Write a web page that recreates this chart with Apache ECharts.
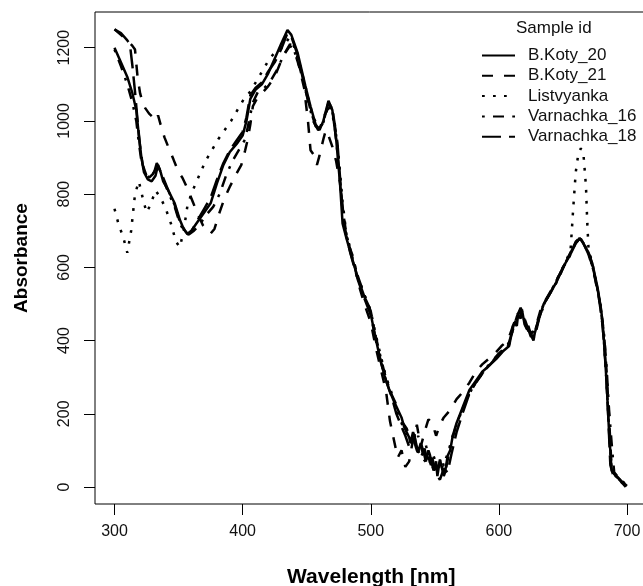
<!DOCTYPE html>
<html>
<head>
<meta charset="utf-8">
<title>Absorbance spectra</title>
<script src="https://cdn.jsdelivr.net/npm/echarts@6/dist/echarts.min.js"></script>
<style>
  html, body { margin: 0; padding: 0; background: #fff; }
  #chart { width: 643px; height: 586px; }
</style>
</head>
<body>
<div id="chart"></div>
<script>
// tick labels
const xTicks = [300, 400, 500, 600, 700];
const yTicks = [0, 200, 400, 600, 800, 1000, 1200];

// sample names (legend order)
const sampleNames = ['B.Koty_20', 'B.Koty_21', 'Listvyanka', 'Varnachka_16', 'Varnachka_18'];

// [wavelength nm, absorbance]
const bKoty20 = [[300,1200],[305,1160],[310,1120],[314,1075],[317,1030],[319,960],[321,900],[323,860],[326,840],[329,835],[332,850],[334,880],[336,860],[338,835],[342,810],[347,775],[351,730],[354,705],[357,692],[360,700],[365,725],[370,750],[375,775],[380,830],[385,880],[390,915],[396,940],[400,960],[403,1000],[406,1060],[410,1085],[415,1100],[420,1130],[425,1170],[430,1210],[435,1248],[438,1235],[443,1185],[449,1095],[453,1040],[457,990],[460,975],[463,1000],[467,1055],[470,1030],[473,950],[476,830],[478,720],[481,680],[485,630],[490,570],[495,520],[499,490],[503,420],[507,355],[511,300],[515,260],[518,235],[520,220],[522,205],[524,190],[526,165],[528,150],[530,135],[531,120],[533,150],[534,140],[536,110],[537,95],[539,120],[540,110],[542,85],[543,70],[545,100],[546,90],[548,60],[549,45],[551,70],[552,30],[554,75],[555,60],[557,30],[558,40],[560,85],[562,100],[564,140],[567,175],[572,220],[577,265],[582,290],[587,315],[592,330],[598,350],[603,370],[608,385],[610,420],[612,450],[614,440],[615,470],[617,460],[618,485],[620,445],[622,430],[623,440],[625,415],[627,400],[628,420],[630,445],[635,500],[640,530],[645,560],[650,600],[655,630],[660,665],[663,680],[666,665],[670,640],[673,610],[677,545],[680,480],[682,400],[684,290],[686,150],[688,45],[692,30],[696,15],[700,3]];

const bKoty21 = [[300,1250],[305,1235],[310,1220],[314,1205],[316,1195],[318,1120],[320,1075],[322,1050],[324,1035],[327,1020],[330,1010],[332,1000],[334,1015],[336,990],[339,955],[343,920],[346,895],[350,860],[353,845],[357,815],[361,780],[365,745],[369,715],[373,700],[375,692],[378,705],[382,750],[386,790],[390,820],[395,855],[399,880],[402,920],[404,950],[406,990],[408,1040],[411,1060],[415,1075],[420,1095],[425,1120],[429,1155],[433,1185],[437,1205],[440,1195],[444,1150],[448,1090],[451,1000],[453,920],[456,905],[458,880],[460,905],[463,950],[465,975],[467,960],[470,930],[473,890],[476,830],[479,720],[482,670],[486,630],[490,560],[495,500],[500,450],[504,380],[508,320],[512,260],[515,180],[518,130],[521,80],[524,100],[527,55],[530,70],[533,130],[536,170],[539,110],[542,150],[545,185],[548,175],[551,140],[554,170],[557,190],[562,210],[567,240],[572,260],[577,285],[582,315],[587,335],[592,350],[597,365],[602,385],[607,400],[611,440],[614,470],[617,480],[620,450],[623,430],[626,420],[629,440],[633,490],[638,520],[643,550],[648,585],[653,620],[658,655],[662,675],[664,678],[667,660],[671,630],[675,570],[679,500],[682,420],[684,320],[686,190],[688,50],[691,30],[696,15],[700,2]];

const listvyanka = [[300,760],[303,720],[307,680],[310,640],[313,700],[316,800],[319,835],[322,790],[325,750],[328,770],[332,810],[336,790],[340,760],[344,720],[348,670],[351,655],[354,700],[357,770],[361,810],[366,850],[371,890],[376,920],[381,950],[386,975],[391,1000],[396,1030],[401,1060],[406,1080],[411,1110],[416,1140],[421,1170],[426,1190],[431,1200],[436,1225],[440,1205],[445,1150],[450,1080],[455,1010],[459,985],[462,990],[466,1040],[469,1045],[472,990],[475,900],[478,780],[481,690],[485,640],[490,575],[495,525],[500,480],[504,415],[508,355],[512,300],[516,260],[520,215],[524,175],[528,140],[532,120],[536,105],[540,80],[544,65],[548,55],[552,45],[556,55],[560,90],[564,140],[568,180],[573,225],[578,265],[583,290],[588,315],[593,335],[598,355],[603,372],[608,390],[612,445],[615,468],[618,480],[621,440],[624,420],[627,405],[630,450],[635,500],[640,530],[645,565],[650,600],[654,630],[656,650],[658,760],[660,860],[662,910],[664,925],[666,910],[668,820],[669,720],[670,650],[673,610],[677,540],[680,475],[682,400],[684,290],[686,160],[688,45],[692,28],[696,12],[700,2]];

const varnachka16 = [[300,1195],[305,1150],[310,1100],[314,1050],[317,1000],[319,940],[321,890],[324,855],[327,845],[330,855],[333,875],[335,870],[338,840],[342,805],[347,765],[351,720],[355,695],[358,690],[362,700],[367,720],[372,745],[377,765],[382,800],[387,850],[392,890],[397,920],[402,950],[405,1000],[408,1050],[412,1080],[417,1090],[422,1110],[427,1140],[432,1180],[437,1210],[440,1195],[445,1140],[450,1070],[455,1000],[459,975],[462,985],[466,1030],[469,1040],[472,980],[475,880],[478,760],[481,690],[485,635],[490,575],[495,525],[500,480],[504,410],[508,350],[512,295],[516,255],[520,225],[522,200],[524,180],[526,170],[528,160],[530,140],[532,130],[534,150],[535,115],[537,140],[538,135],[540,100],[541,90],[543,115],[544,100],[546,70],[547,60],[549,85],[550,75],[552,50],[553,45],[555,80],[556,70],[558,45],[559,55],[562,110],[566,160],[570,200],[575,240],[580,275],[585,300],[590,325],[595,345],[600,365],[605,380],[609,400],[611,440],[613,455],[616,475],[619,470],[621,440],[624,420],[628,410],[631,455],[636,505],[641,535],[646,565],[651,605],[656,635],[660,668],[663,678],[667,660],[671,630],[675,575],[679,505],[682,420],[684,330],[686,210],[688,120],[690,40],[695,20],[700,5]];

const varnachka18 = [[300,1250],[305,1240],[310,1220],[312,1210],[314,1150],[316,1080],[318,1000],[320,930],[322,880],[325,850],[328,850],[331,860],[333,885],[335,870],[338,845],[342,810],[347,770],[351,725],[355,700],[357,690],[360,698],[365,730],[370,760],[375,790],[380,840],[385,885],[390,920],[395,945],[400,970],[403,1010],[406,1070],[410,1090],[415,1105],[420,1135],[425,1160],[430,1195],[435,1240],[438,1230],[443,1180],[448,1100],[453,1030],[457,985],[460,980],[464,1010],[467,1050],[470,1035],[474,940],[477,800],[480,700],[484,640],[490,565],[495,515],[500,470],[504,400],[508,340],[512,290],[516,250],[520,200],[524,165],[527,140],[530,110],[533,135],[536,100],[539,80],[542,105],[545,60],[548,80],[551,35],[554,20],[557,50],[560,40],[563,90],[567,150],[572,205],[577,255],[582,285],[587,310],[592,330],[597,350],[602,370],[607,385],[611,430],[614,465],[617,490],[619,470],[622,440],[625,410],[628,420],[631,460],[636,505],[641,535],[646,570],[651,605],[656,640],[660,670],[663,680],[666,665],[670,635],[674,590],[678,520],[681,440],[683,350],[685,220],[687,60],[689,35],[694,20],[699,0]];

const sampleData = [bKoty20, bKoty21, listvyanka, varnachka16, varnachka18];

// R line types (solid, dashed, dotted, dotdash, longdash)
const lineTypes = ['solid', [11, 11], [2.75, 8.25], [2.75, 8.25, 11, 8.25], [19, 8]];

const chartDom = document.getElementById('chart');
const myChart = echarts.init(chartDom, null, { renderer: 'canvas' });

const font = 'Liberation Sans, Arial, sans-serif';

const option = {
  animation: false,
  backgroundColor: '#fff',
  title: {
    text: 'Sample id',
    left: 516,
    top: 20,
    padding: 0,
    textStyle: { fontFamily: font, fontSize: 17, fontWeight: 'normal', color: '#111' }
  },
  legend: {
    orient: 'vertical',
    left: 481,
    top: 47,
    padding: 0,
    itemWidth: 33,
    itemHeight: 17,
    itemGap: 3.3,
    data: sampleNames,
    itemStyle: { opacity: 0 },
    textStyle: { fontFamily: font, fontSize: 17, color: '#111', padding: [0, 0, 0, 8] }
  },
  grid: {
    left: 95,
    top: 12,
    right: -4.5,
    bottom: 82,
    show: true,
    borderColor: '#000',
    borderWidth: 1,
    containLabel: false,
    outerBoundsMode: 'none'
  },
  xAxis: {
    type: 'value',
    position: 'bottom',
    min: 284.78,
    max: 716,
    name: 'Wavelength [nm]',
    nameLocation: 'middle',
    nameGap: 63,
    nameTextStyle: { fontFamily: font, fontSize: 21, fontWeight: 'bold', color: '#000' },
    axisLine: { show: false, onZero: false },
    axisTick: { show: true, inside: false, length: 11, customValues: xTicks, lineStyle: { color: '#000' } },
    axisLabel: { customValues: xTicks, margin: 20, fontFamily: font, fontSize: 16, color: '#111' },
    splitLine: { show: false }
  },
  yAxis: {
    type: 'value',
    position: 'left',
    min: -46.4,
    max: 1297.5,
    name: 'Absorbance',
    nameLocation: 'middle',
    nameGap: 64,
    nameRotate: 90,
    nameTextStyle: { fontFamily: font, fontSize: 19, fontWeight: 'bold', color: '#000' },
    axisLine: { show: false, onZero: false },
    axisTick: { show: true, inside: false, length: 11, customValues: yTicks, lineStyle: { color: '#000' } },
    axisLabel: {
      customValues: yTicks,
      rotate: 90,
      margin: 22,
      formatter: (v) => String(v),
      fontFamily: font,
      fontSize: 16,
      color: '#111'
    },
    splitLine: { show: false }
  },
  series: sampleNames.map((name, i) => ({
    name: name,
    type: 'line',
    data: sampleData[i],
    symbol: 'none',
    showSymbol: false,
    lineStyle: { color: '#000', width: 2.5, type: lineTypes[i] },
    itemStyle: { color: '#000' }
  }))
};

myChart.setOption(option);

window.addEventListener('resize', () => {
  myChart.resize();
});
</script>
</body>
</html>
